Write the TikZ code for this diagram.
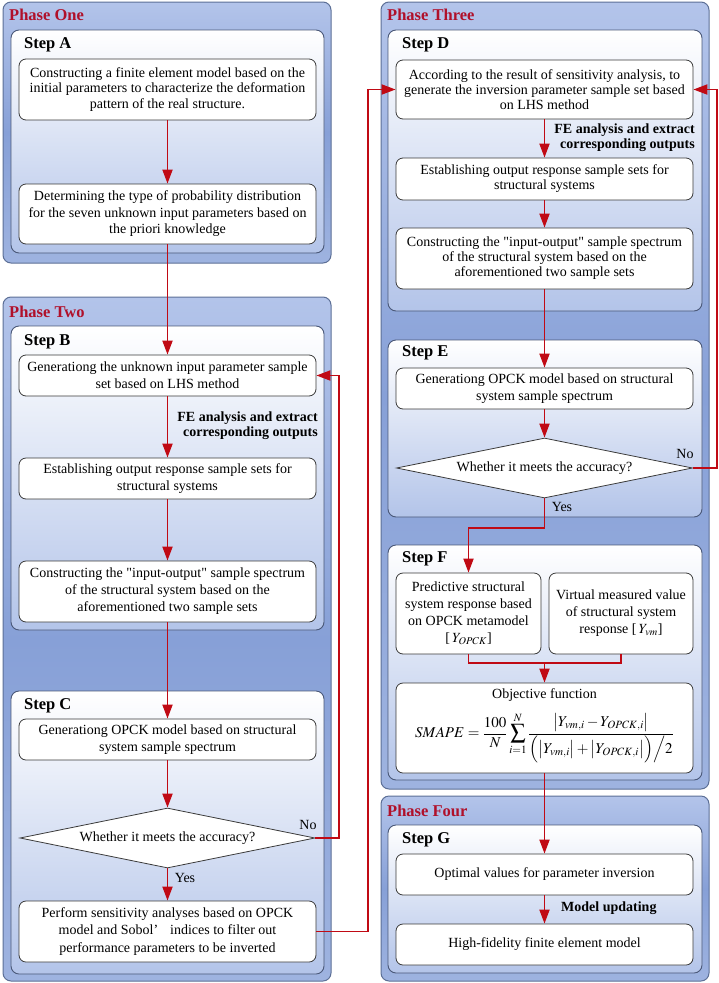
\documentclass[tikz,border=0pt]{standalone}
\usepackage{mathptmx}
\usepackage{fontspec}
\setmainfont{Liberation Serif}
\newfontfamily\plainq{Liberation Serif}
\newcommand{\sq}{{\plainq\symbol{34}}}
\usetikzlibrary{shapes.geometric,arrows.meta}
\definecolor{phtop}{HTML}{B3C4EA}
\definecolor{phmid}{HTML}{87A0D7}
\definecolor{phbot}{HTML}{9EB3E0}
\definecolor{phline}{HTML}{5C6F96}
\definecolor{stline}{HTML}{4A5878}
\definecolor{stbot}{HTML}{B3C4E9}
\definecolor{boxline}{HTML}{3A3A3A}
\definecolor{arrred}{HTML}{C00A14}
\definecolor{titlered}{HTML}{B0102A}
\tikzset{
  phasebox/.style={draw=phline, line width=1pt, rounded corners=8pt, top color=phtop, bottom color=phbot, middle color=phmid},
  stepbox/.style={draw=stline, line width=0.9pt, rounded corners=8pt, top color=white, bottom color=stbot},
  proc/.style={draw=boxline, line width=0.8pt, fill=white, rounded corners=7pt, align=center, inner sep=2pt, font=\fontsize{14}{16.5}\selectfont},
  dec/.style={diamond, draw=boxline, fill=white, line width=0.8pt, inner sep=0pt, aspect=5, font=\fontsize{14}{16}\selectfont},
  arr/.style={draw=arrred, line width=1.8pt, -{Triangle[length=14pt,width=10pt]}},
  ln/.style={draw=arrred, line width=1.8pt},
  phtitle/.style={anchor=west, text=titlered, font=\fontsize{16.5}{18}\selectfont\bfseries, inner sep=0pt},
  steptitle/.style={anchor=west, font=\fontsize{16.5}{18}\selectfont\bfseries, inner sep=0pt},
  lbl/.style={font=\fontsize{14}{15}\selectfont\bfseries, align=right, inner sep=0pt},
  yn/.style={font=\fontsize{14}{16}\selectfont, inner sep=0pt},
  plain/.style={font=\fontsize{14}{16}\selectfont, inner sep=0pt}
}
\begin{document}
\begin{tikzpicture}[x=1pt,y=-1pt]
\useasboundingbox (0,0) rectangle (718,983);
% phases
\path[phasebox] (3,2) rectangle (331,263);
\path[phasebox] (3,297) rectangle (331,981);
\path[phasebox] (381,2) rectangle (709,789);
\path[phasebox] (381,796) rectangle (709,981);
\node[phtitle] (p1) at (9,15) {Phase One};
\node[phtitle] (p2) at (9,312) {Phase Two};
\node[phtitle] (p3) at (387,15) {Phase Three};
\node[phtitle] (p4) at (387,811) {Phase Four};
% steps
\path[stepbox] (11,30) rectangle (324,253);
\path[stepbox] (11,326) rectangle (324,630);
\path[stepbox] (11,691) rectangle (324,974);
\path[stepbox] (388,30) rectangle (702,311);
\path[stepbox] (388,340) rectangle (702,517);
\path[stepbox] (388,545) rectangle (702,780);
\path[stepbox] (388,825) rectangle (702,973);
\node[steptitle] (sA) at (24,45) {Step A};
\node[steptitle] (sB) at (24,342) {Step B};
\node[steptitle] (sC) at (24,706) {Step C};
\node[steptitle] (sD) at (402,45) {Step D};
\node[steptitle] (sE) at (402,353) {Step E};
\node[steptitle] (sF) at (402,559) {Step F};
\node[steptitle] (sG) at (402,840) {Step G};
% left column boxes
\node[proc, minimum width=297pt, minimum height=61pt, font=\fontsize{14}{15.8}\selectfont] (A1) at (167.5,89.5)
  {Constructing a finite element model based on the\\initial parameters to characterize the deformation\\pattern of the real structure.};
\node[proc, minimum width=297pt, minimum height=60pt] (A2) at (167.5,214)
  {Determining the type of probability distribution\\for the seven unknown input parameters based on\\the priori knowledge};
\node[proc, minimum width=297pt, minimum height=41pt, font=\fontsize{14}{17}\selectfont] (B1) at (167.5,375.5)
  {Generationg the unknown input parameter sample\\set based on LHS method};
\node[proc, minimum width=297pt, minimum height=41pt] (B2) at (167.5,478.5)
  {Establishing output response sample sets for\\structural systems};
\node[proc, minimum width=297pt, minimum height=61pt, font=\fontsize{14}{17}\selectfont] (B3) at (167.5,591.5)
  {Constructing the \sq input-output\sq{} sample spectrum\\of the structural system based on the\\aforementioned two sample sets};
\node[proc, minimum width=297pt, minimum height=41pt] (C1) at (167.5,739.5)
  {Generationg OPCK model based on structural\\system sample spectrum};
\node[dec, minimum width=295pt, minimum height=60pt] (dC) at (167.5,838) {Whether it meets the accuracy?};
\node[proc, minimum width=297pt, minimum height=61pt, font=\fontsize{14}{17.5}\selectfont] (C2) at (167.5,931.5)
  {Perform sensitivity analyses based on OPCK\\model and Sobol’\hspace{0.6em} indices to filter out\\performance parameters to be inverted};
\node[lbl, anchor=east] (fe1) at (318,425.5) {FE analysis and extract\\corresponding outputs};
\node[yn] (noC) at (308,825) {No};
\node[yn] (yesC) at (185,878) {Yes};
% right column boxes
\node[proc, minimum width=297pt, minimum height=59pt, font=\fontsize{14}{14.8}\selectfont] (D1) at (544.5,89.5)
  {According to the result of sensitivity analysis, to\\generate the inversion parameter sample set based\\on LHS method};
\node[proc, minimum width=297pt, minimum height=42pt, font=\fontsize{14}{15}\selectfont] (D2) at (544.5,179)
  {Establishing output response sample sets for\\structural systems};
\node[proc, minimum width=297pt, minimum height=61pt, font=\fontsize{14}{15}\selectfont] (D3) at (544.5,258.5)
  {Constructing the \sq input-output\sq{} sample spectrum\\of the structural system based on the\\aforementioned two sample sets};
\node[lbl, anchor=east] (fe2) at (695,137.5) {FE analysis and extract\\corresponding outputs};
\node[proc, minimum width=297pt, minimum height=41pt, font=\fontsize{14}{17}\selectfont] (E1) at (544.5,388.5)
  {Generationg OPCK model based on structural\\system sample spectrum};
\node[dec, minimum width=296pt, minimum height=60pt] (dE) at (544.5,468) {Whether it meets the accuracy?};
\node[yn] (noE) at (685,454) {No};
\node[yn] (yesE) at (562,507) {Yes};
\node[proc, minimum width=145pt, minimum height=81pt, font=\fontsize{14}{17}\selectfont] (F1) at (468.5,613.5)
  {Predictive structural\\system response based\\on OPCK metamodel\\{[}\,$Y_{OPCK}$]};
\node[proc, minimum width=144pt, minimum height=81pt, font=\fontsize{14}{17}\selectfont] (F2) at (621,613.5)
  {Virtual measured value\\of structural system\\response [\,$Y_{vm}$]};
\node[proc, minimum width=297pt, minimum height=90pt] (F3) at (544.5,728) {};
\node[plain] (objf) at (544.5,695.5) {Objective function};
\node[inner sep=0pt, font=\fontsize{15}{17}\selectfont] (smape) at (544.5,738)
  {$\displaystyle SMAPE=\frac{100}{N}\sum_{i=1}^{N}\frac{\bigl|Y_{vm,i}-Y_{OPCK,i}\bigr|}{\Bigl(\bigl|Y_{vm,i}\bigr|+\bigl|Y_{OPCK,i}\bigr|\Bigr)\Big/2}$};
\node[proc, minimum width=297pt, minimum height=41pt] (G1) at (544.5,874.5) {Optimal values for parameter inversion};
\node[proc, minimum width=297pt, minimum height=41pt] (G2) at (544.5,944.5) {High-fidelity finite element model};
\node[lbl, anchor=west] (mu) at (561,908) {Model updating};
% coordinates
\coordinate (nB) at (339,838);
\coordinate (cR) at (368,931.5);
\coordinate (nE) at (717,468);
\coordinate (yE) at (544.5,528);
\coordinate (jF) at (544.5,663);
% connectors
\draw[arr] (A1.south) -- (A2.north);
\draw[arr] (A2.south) -- (B1.north);
\draw[arr] (B1.south) -- (B2.north);
\draw[arr] (B2.south) -- (B3.north);
\draw[arr] (B3.south) -- (C1.north);
\draw[arr] (C1.south) -- (dC.north);
\draw[arr] (dC.south) -- (C2.north);
\draw[arr] (dC.east) -- (nB) |- (B1.east);
\draw[arr] (C2.east) -- (cR) |- (D1.west);
\draw[arr] (D1.south) -- (D2.north);
\draw[arr] (D2.south) -- (D3.north);
\draw[arr] (D3.south) -- (E1.north);
\draw[arr] (E1.south) -- (dE.north);
\draw[arr] (dE.east) -- (nE) |- (D1.east);
\draw[arr] (dE.south) -- (yE) -| (F1.north);
\draw[ln] (F1.south) |- (jF) -| (F2.south);
\draw[arr] (jF) -- (F3.north);
\draw[arr] (F3.south) -- (G1.north);
\draw[arr] (G1.south) -- (G2.north);
\end{tikzpicture}
\end{document}
